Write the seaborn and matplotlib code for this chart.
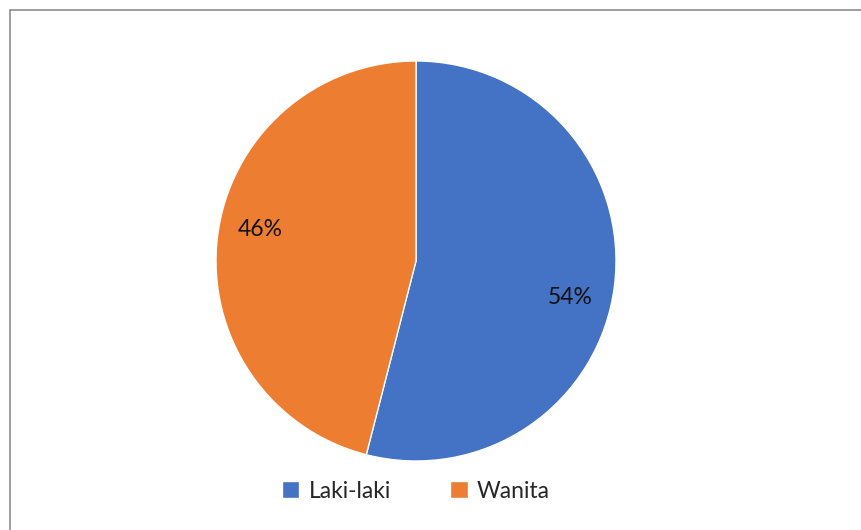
import matplotlib
matplotlib.use("Agg")
import matplotlib.pyplot as plt
import seaborn as sns
from matplotlib.patches import Rectangle

# data
labels = ["Laki-laki", "Wanita"]
shares = [54, 46]
colors = ["#4472C4", "#ED7D31"]

sns.set_theme(style="white")
plt.rcParams["font.family"] = ["Lato", "DejaVu Sans"]

W, H = 861, 530
fig = plt.figure(figsize=(W / 100, H / 100), dpi=100)
fig.patch.set_facecolor("white")

# chart frame
fig.add_artist(Rectangle((9.5 / W, -0.01), 1.02 - 9.5 / W, 1 - 9.5 / H + 0.01,
                         transform=fig.transFigure, fill=False,
                         edgecolor="#8c8c8c", linewidth=1.2))

cx, cy, r = 416, 261, 200
ax = fig.add_axes([(cx - r) / W, (H - cy - r) / H, 2 * r / W, 2 * r / H])
wedges, texts, autotexts = ax.pie(
    shares, colors=sns.color_palette(colors), startangle=90, counterclock=False,
    autopct="%d%%", pctdistance=0.79,
    wedgeprops=dict(edgecolor="white", linewidth=1),
    textprops=dict(fontsize=16.5, color="#111111"))
# excel-style label placement
autotexts[0].set_position((0.77, -0.18))
autotexts[1].set_position((-0.78, 0.16))
ax.set_aspect("equal")
ax.set_xlim(-1, 1)
ax.set_ylim(-1, 1)

fig.legend(wedges, labels, loc="center", bbox_to_anchor=(416 / W, 1 - 491 / H),
           ncol=2, frameon=False, fontsize=16.5, handlelength=0.75, handleheight=0.75,
           columnspacing=2.6, handletextpad=0.4)

fig.savefig("out.png", dpi=100)
